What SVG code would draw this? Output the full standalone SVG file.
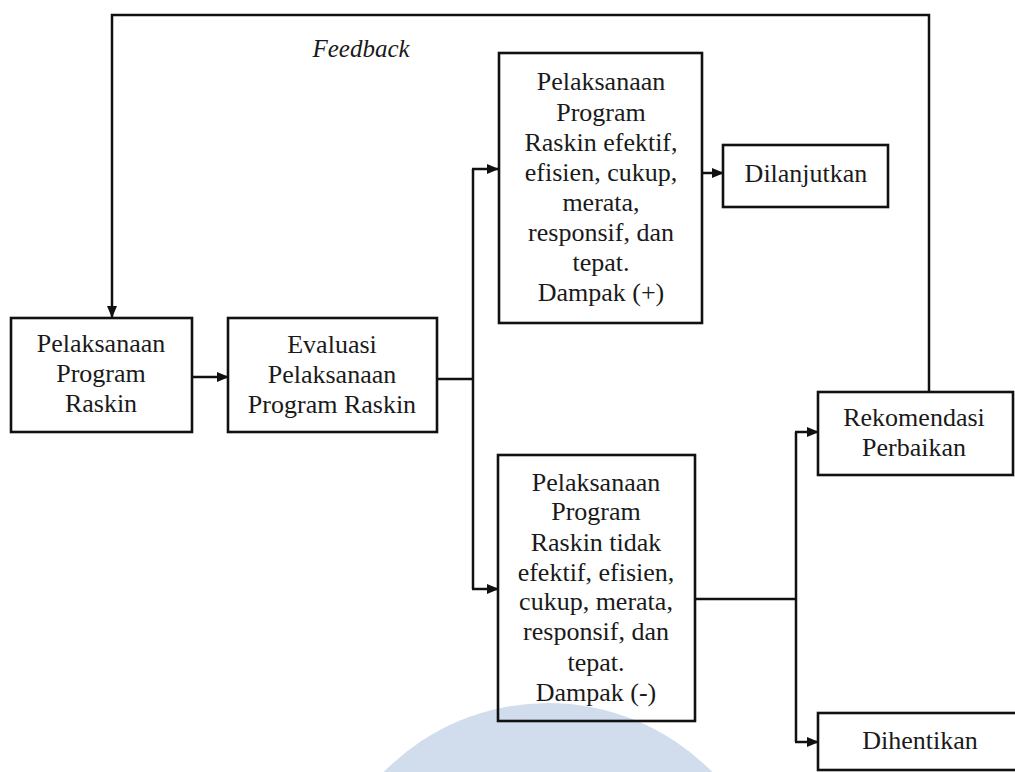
<svg xmlns="http://www.w3.org/2000/svg" width="1015" height="772" viewBox="0 0 1015 772">
<defs>
<style>
.box{fill:none;stroke:#111;stroke-width:2.6}
text{font-family:'Liberation Serif','Times New Roman','DejaVu Serif',serif}
.t{font-size:26px;fill:#1a1a1a;text-anchor:middle}
.it{font-style:italic;font-size:25px}
.c{fill:none;stroke:#111;stroke-width:2.5}
</style>
<marker id="ah" viewBox="0 0 12 10" refX="11" refY="5" markerWidth="12" markerHeight="10" markerUnits="userSpaceOnUse" orient="auto">
<path d="M0,0 L12,5 L0,10 Z" fill="#111"/>
</marker>
</defs>
<rect width="1015" height="772" fill="#fff"/>
<circle cx="548" cy="933" r="230" fill="#c9d7ea" opacity="0.85"/>

<g id="connectors">
<path class="c" d="M929 392 V15 H112 V317" marker-end="url(#ah)"/>
<path class="c" d="M192 377 H228" marker-end="url(#ah)"/>
<path class="c" d="M437 379 H473"/>
<path class="c" d="M473 169 V589"/>
<path class="c" d="M472 169 H498" marker-end="url(#ah)"/>
<path class="c" d="M472 589 H498" marker-end="url(#ah)"/>
<path class="c" d="M702 173 H723" marker-end="url(#ah)"/>
<path class="c" d="M695 599 H796"/>
<path class="c" d="M796 432 V742"/>
<path class="c" d="M795 432 H818" marker-end="url(#ah)"/>
<path class="c" d="M795 742 H818" marker-end="url(#ah)"/>
<text class="t it" x="361" y="57" font-family="Liberation Serif, serif">Feedback</text>
</g>

<g id="n1" font-family="Liberation Serif, serif">
<rect class="box" x="11" y="318" width="181" height="114"/>
<text class="t" x="101" y="352">Pelaksanaan</text>
<text class="t" x="101" y="382">Program</text>
<text class="t" x="101" y="412">Raskin</text>
</g>

<g id="n2">
<rect class="box" x="228" y="318" width="209" height="114"/>
<text class="t" x="332" y="353">Evaluasi</text>
<text class="t" x="332" y="383">Pelaksanaan</text>
<text class="t" x="332" y="413">Program Raskin</text>
</g>

<g id="n3">
<rect class="box" x="499" y="53" width="203" height="270"/>
<text class="t" x="601" y="90">Pelaksanaan</text>
<text class="t" x="601" y="121">Program</text>
<text class="t" x="601" y="151">Raskin efektif,</text>
<text class="t" x="601" y="181">efisien, cukup,</text>
<text class="t" x="601" y="211">merata,</text>
<text class="t" x="601" y="241">responsif, dan</text>
<text class="t" x="601" y="271">tepat.</text>
<text class="t" x="601" y="301">Dampak (+)</text>
</g>

<g id="n4">
<rect class="box" x="723" y="145" width="165" height="62"/>
<text class="t" x="806" y="182">Dilanjutkan</text>
</g>

<g id="n5">
<rect class="box" x="498" y="455" width="197" height="266"/>
<text class="t" x="596" y="491">Pelaksanaan</text>
<text class="t" x="596" y="520">Program</text>
<text class="t" x="596" y="551">Raskin tidak</text>
<text class="t" x="596" y="581">efektif, efisien,</text>
<text class="t" x="596" y="610">cukup, merata,</text>
<text class="t" x="596" y="640">responsif, dan</text>
<text class="t" x="596" y="671">tepat.</text>
<text class="t" x="596" y="701">Dampak (-)</text>
</g>

<g id="n6">
<rect class="box" x="818" y="392" width="195" height="83"/>
<text class="t" x="914" y="426">Rekomendasi</text>
<text class="t" x="914" y="456">Perbaikan</text>
</g>

<g id="n7">
<rect class="box" x="818" y="713" width="210" height="57"/>
<text class="t" x="920" y="749">Dihentikan</text>
</g>
</svg>
